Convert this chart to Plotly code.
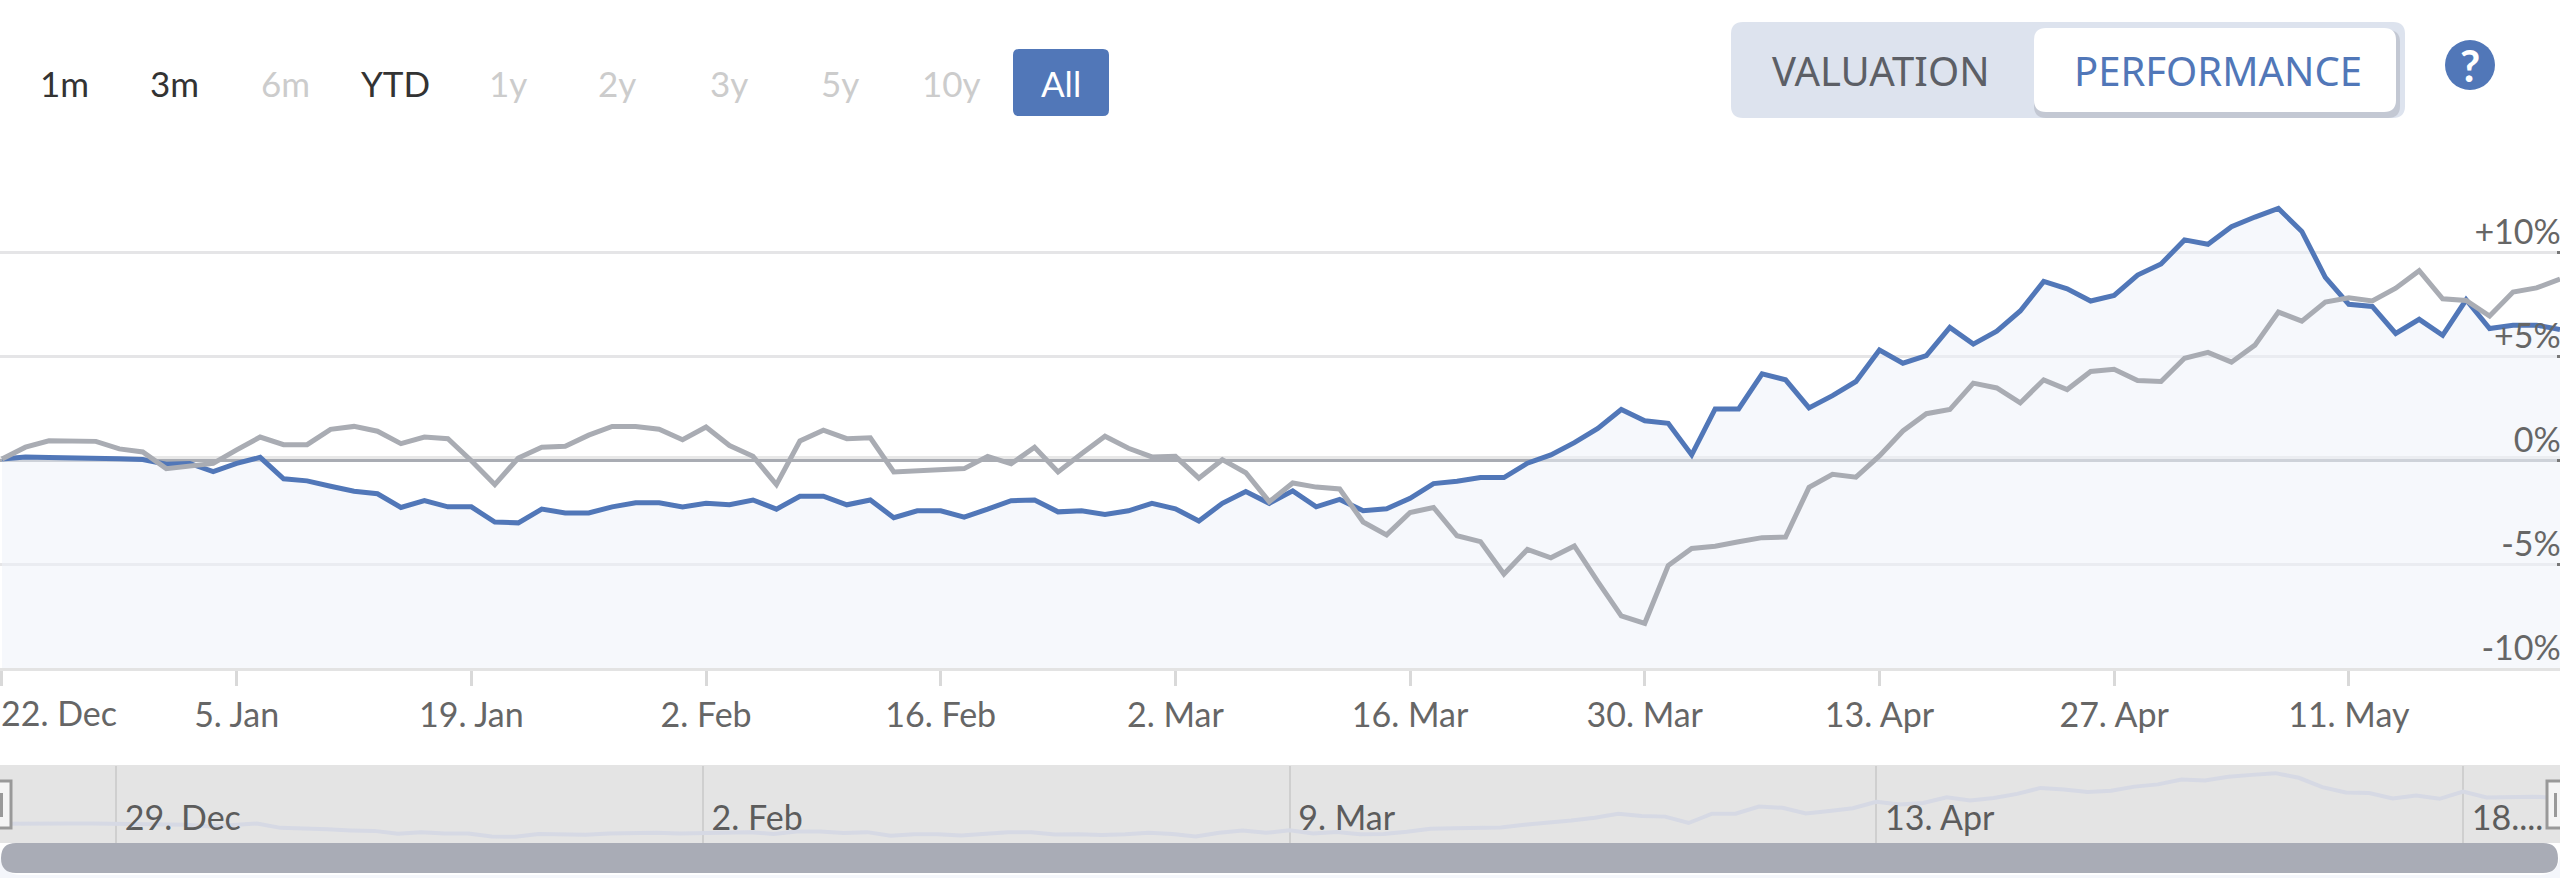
import pandas as pd
import plotly.graph_objects as go

W, H = 2560, 878

# trading days, the x axis is ordinal so weekends and gaps do not show
dates = [d.strftime("%Y-%m-%d") for d in pd.bdate_range("2019-12-23", periods=110)]

stock = [0.05, 0.15, 0.13, 0.13, 0.13, 0.07, 0.03, -0.2, -0.16, -0.55,
         -0.16, 0.13, -0.9, -1.0, -1.26, -1.5, -1.62, -2.28, -1.95, -2.25,
         -2.25, -2.98, -3.02, -2.36, -2.54, -2.54, -2.25, -2.05, -2.05, -2.25,
         -2.08, -2.15, -1.92, -2.36, -1.74, -1.74, -2.15, -1.92, -2.77, -2.44,
         -2.44, -2.74, -2.36, -1.95, -1.92, -2.49, -2.44, -2.61, -2.44, -2.08,
         -2.34, -2.93, -2.08, -1.51, -2.08, -1.48, -2.25, -1.89, -2.44, -2.34,
         -1.84, -1.13, -1.02, -0.84, -0.84, -0.15, 0.25, 0.84, 1.52, 2.43,
         1.89, 1.77, 0.25, 2.46, 2.46, 4.15, 3.86, 2.51, 3.1, 3.78,
         5.29, 4.66, 5.02, 6.38, 5.58, 6.2, 7.17, 8.59, 8.24, 7.65,
         7.92, 8.9, 9.43, 10.59, 10.38, 11.22, 11.69, 12.1, 11.0, 8.79,
         7.49, 7.39, 6.09, 6.77, 6.0, 7.71, 6.33, 6.49, 6.49, 6.28]

benchmark = [0.05, 0.62, 0.93, 0.92, 0.9, 0.54, 0.39, -0.41, -0.31, -0.16,
             0.49, 1.11, 0.74, 0.74, 1.48, 1.62, 1.39, 0.79, 1.11, 1.03,
             -0.03, -1.18, 0.1, 0.62, 0.66, 1.2, 1.62, 1.62, 1.48, 0.98,
             1.59, 0.7, 0.18, -1.18, 0.92, 1.44, 1.03, 1.07, -0.57, -0.52,
             -0.48, -0.41, 0.18, -0.18, 0.62, -0.57, 0.3, 1.15, 0.57, 0.15,
             0.18, -0.87, 0.02, -0.61, -2.0, -1.1, -1.3, -1.39, -2.98, -3.6,
             -2.52, -2.28, -3.64, -3.92, -5.48, -4.3, -4.7, -4.13, -5.85, -7.49,
             -7.85, -5.07, -4.25, -4.14, -3.93, -3.73, -3.7, -1.31, -0.68, -0.82,
             0.2, 1.4, 2.23, 2.43, 3.7, 3.47, 2.75, 3.86, 3.39, 4.26,
             4.37, 3.83, 3.78, 4.9, 5.18, 4.71, 5.53, 7.12, 6.68, 7.6,
             7.81, 7.65, 8.27, 9.11, 7.76, 7.68, 6.93, 8.08, 8.28, 8.71]

floor = [-10] * len(dates)

x_ticks = dates[::10]
x_labels = ["", "5. Jan", "19. Jan", "2. Feb", "16. Feb", "2. Mar", "16. Mar",
            "30. Mar", "13. Apr", "27. Apr", "11. May"]
y_ticks = [-10, -5, 0, 5, 10]
y_labels = ["-10%", "-5%", "0%", "+5%", "+10%"]

nav_ticks = dates[5::25]
nav_labels = ["\u00a029. Dec", "\u00a02. Feb", "\u00a09. Mar", "\u00a013. Apr", "\u00a018...."]

buttons = ["1m", "3m", "6m", "YTD", "1y", "2y", "3y", "5y", "10y", "All"]
button_x = [64, 174, 285, 395, 508, 617, 729, 840, 951, 1061]
button_color = ["#333333", "#333333", "#cccccc", "#333333", "#cccccc", "#cccccc",
                "#cccccc", "#cccccc", "#cccccc", "#ffffff"]

BLUE = "#5177b8"
GREY = "#a9acb3"


def px(x):
    return x / W


def py(y):
    return 1 - y / H


def rrect(x0, y0, x1, y1, r, fill):
    # rounded box given in page pixels
    path = (f"M {px(x0 + r)} {py(y0)} L {px(x1 - r)} {py(y0)} Q {px(x1)} {py(y0)} {px(x1)} {py(y0 + r)} "
            f"L {px(x1)} {py(y1 - r)} Q {px(x1)} {py(y1)} {px(x1 - r)} {py(y1)} "
            f"L {px(x0 + r)} {py(y1)} Q {px(x0)} {py(y1)} {px(x0)} {py(y1 - r)} "
            f"L {px(x0)} {py(y0 + r)} Q {px(x0)} {py(y0)} {px(x0 + r)} {py(y0)} Z")
    return dict(type="path", path=path, xref="paper", yref="paper", fillcolor=fill,
                line=dict(width=0), layer="below")


def box(x0, y0, x1, y1, fill, line=None, layer="below"):
    return dict(type="rect", xref="paper", yref="paper", x0=px(x0), x1=px(x1), y0=py(y1), y1=py(y0),
                fillcolor=fill, line=dict(width=3, color=line) if line else dict(width=0), layer=layer)


def label(text, x, y, size, color, family="Lato", anchor="center"):
    return dict(text=text, x=px(x), y=py(y), xref="paper", yref="paper", showarrow=False,
                xanchor=anchor, yanchor="middle", font=dict(family=family, size=size, color=color))


fig = go.Figure()
fig.add_trace(go.Scatter(x=dates, y=floor, mode="lines", line=dict(width=0), hoverinfo="skip", showlegend=False))
fig.add_trace(go.Scatter(x=dates, y=stock, mode="lines", line=dict(color=BLUE, width=5), fill="tonexty",
                         fillcolor="rgba(238,242,249,0.54)", showlegend=False))
fig.add_trace(go.Scatter(x=dates, y=benchmark, mode="lines", line=dict(color=GREY, width=5), showlegend=False))
fig.add_trace(go.Scatter(x=dates, y=stock, mode="lines", line=dict(color="#d6d9e4", width=4),
                         xaxis="x2", yaxis="y2", hoverinfo="skip", showlegend=False))

shapes = [
    rrect(0, -30, W, 875, 22, "#ffffff"),
    box(0, 765, W, 843, "#e4e4e4"),
    box(0, 456, W, 459, "#e8e8e8"),
    rrect(1, 843, 2558, 873, 15, "#a9acb6"),
    rrect(1013, 49, 1109, 116, 6, BLUE),
    rrect(1731, 22, 2405, 118, 12, "#dde3ee"),
    rrect(2034, 30, 2400, 118, 12, "#c3c8d3"),
    rrect(2034, 28, 2396, 112, 12, "#ffffff"),
    dict(type="circle", xref="paper", yref="paper", x0=px(2445), x1=px(2495), y0=py(90), y1=py(40),
         fillcolor=BLUE, line=dict(width=0), layer="below"),
    box(-3, 781, 11, 828, "#f4f4f4", "#999999", "above"),
    box(0, 793, 3, 817, "#999999", None, "above"),
    box(2547, 781, 2563, 828, "#f4f4f4", "#999999", "above"),
    box(2554, 793, 2557, 817, "#999999", None, "above"),
]

notes = [label(t, x, 83, 35, c) for t, x, c in zip(buttons, button_x, button_color)]
notes += [
    label("22. Dec", 59, 712, 34, "#666666"),
    label("VALUATION", 1881, 71, 40, "#5c5f66", "Noto Sans"),
    label("PERFORMANCE", 2218, 71, 40, BLUE, "Noto Sans"),
    label("<b>?</b>", 2470, 65, 44, "#ffffff"),
]

fig.update_layout(
    width=W, height=H, margin=dict(l=0, r=0, t=0, b=0),
    paper_bgcolor="#f4f6fb", plot_bgcolor="rgba(0,0,0,0)",
    font=dict(family="Lato", color="#666666", size=34),
    shapes=shapes, annotations=notes, showlegend=False,
    xaxis=dict(type="category", categoryorder="array", categoryarray=dates, range=[-0.085, 109.0],
               domain=[0, 1], anchor="y", tickmode="array", tickvals=x_ticks, ticktext=x_labels,
               ticks="outside", ticklen=15, tickwidth=2.5, tickcolor="#d9d9d9", showgrid=False,
               showline=True, linecolor="#e3e3e3", linewidth=3, tickfont=dict(size=34, color="#666666")),
    yaxis=dict(range=[-10, 14], domain=[py(668), py(169)], anchor="x", side="right",
               tickmode="array", tickvals=y_ticks, ticktext=y_labels, ticks="inside", ticklen=3,
               tickwidth=3, tickcolor="#777777", ticklabelposition="inside", ticklabelshift=-20,
               gridcolor="#e5e5e7", gridwidth=3, zeroline=True, zerolinecolor=GREY,
               zerolinewidth=3, tickfont=dict(size=34, color="#666666")),
    xaxis2=dict(type="category", categoryorder="array", categoryarray=dates, range=[0.05, 109.13],
                domain=[0, 1], anchor="y2", tickmode="array", tickvals=nav_ticks, ticktext=nav_labels,
                showgrid=True, gridcolor="#cfcfcf", gridwidth=2, ticks="", ticklabelposition="inside right",
                tickfont=dict(size=34, color="#5c5c5c")),
    yaxis2=dict(range=[-4.5, 13.8], domain=[py(843), py(766)], anchor="x2", visible=False, showgrid=False),
)

# the page has to start at the window corner
fig.write_html("out.html", config=dict(displayModeBar=False), post_script="document.body.style.margin='0';")
